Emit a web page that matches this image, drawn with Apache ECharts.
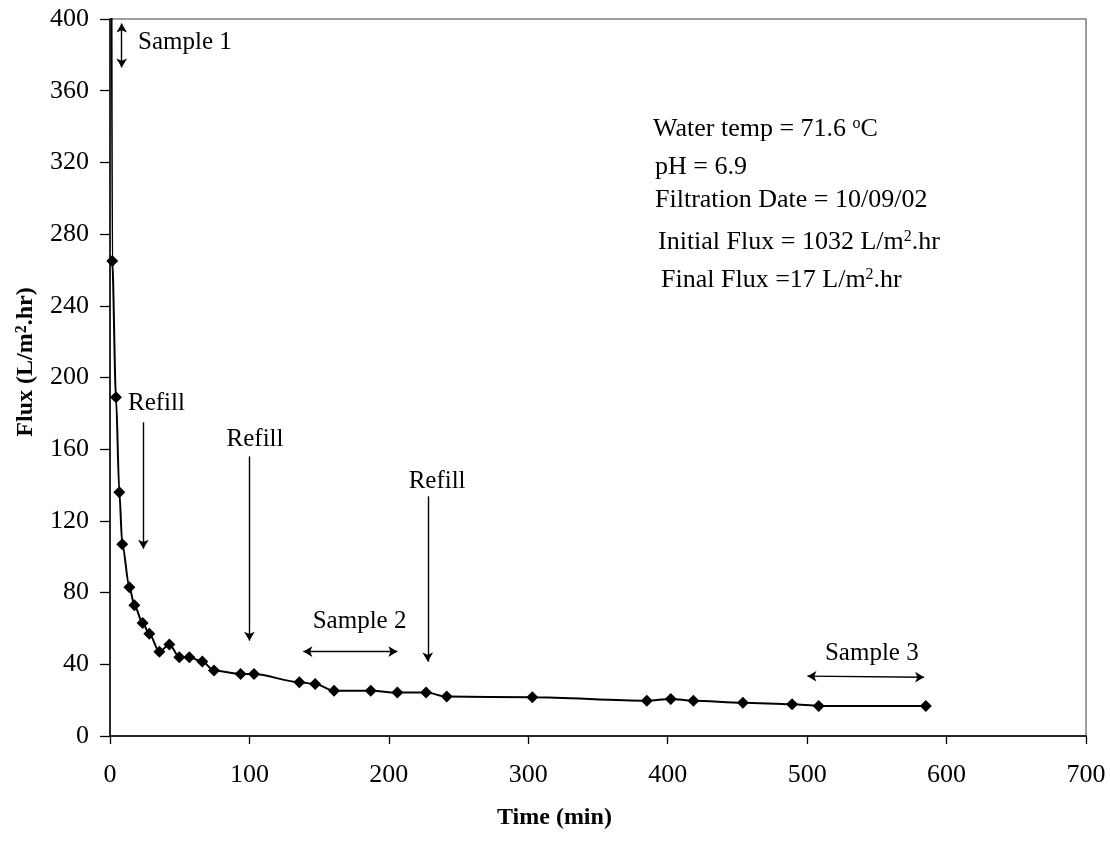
<!DOCTYPE html>
<html>
<head>
<meta charset="utf-8">
<script src="https://cdn.jsdelivr.net/npm/echarts@6/dist/echarts.min.js"></script>
<style>
  html, body { margin: 0; padding: 0; background: #fff; }
  #chart { width: 1110px; height: 846px; }
</style>
</head>
<body>
<div id="chart"></div>
<script>
// Permeate flux over the filtration run
const timeMin = [0, 1.6, 4.3, 6.7, 8.8, 13.9, 17.5, 23.4, 28.2, 35.4, 42.6, 49.7, 56.9, 66.2, 74.6,
  93.7, 103.3, 135.8, 147.1, 160.7, 187, 206.1, 226.7, 241.5, 302.9, 385, 402.2, 418.4, 453.9,
  489.2, 508.3, 585.1];
const fluxLmh = [1032, 265, 189, 136, 107, 83, 73, 63, 57, 47, 51, 44, 44, 41.5, 36.5,
  34.6, 34.6, 30, 29, 25.3, 25.3, 24.2, 24.2, 22, 21.6, 19.7, 20.7, 19.7, 18.6,
  17.7, 16.8, 16.8];

// Axis ranges
const xRange = [0, 700, 100];
const yRange = [0, 400, 40];

// Refill events: time, arrow start flux, arrow end flux
const refillTime = [23.9, 100, 227.9];
const refillFrom = [175, 156, 133.7];
const refillTo = [104.5, 53.2, 41.5];
// Sampling periods (double arrows): [x1, y1, x2, y2]
const sampleArrows = [
  [8.4, 397.5, 8.4, 373],
  [138.7, 47.1, 206.1, 47.1],
  [500.2, 33.4, 583.9, 32.8]
];
// Annotation texts: [label, x, y, align]
const notes = [
  ['Sample 1', 20.1, 387, 'left'],
  ['Refill', 12.9, 185.5, 'left'],
  ['Refill', 104, 165.4, 'center'],
  ['Sample 2', 179, 63.9, 'center'],
  ['Refill', 234.6, 142, 'center'],
  ['Sample 3', 546.4, 46.2, 'center']
];
// Run conditions block
const runInfo = [
  'Water temp = 71.6 {sup|o}C',
  'pH = 6.9',
  'Filtration Date = 10/09/02',
  'Initial Flux = 1032 L/m{sup|2}.hr',
  'Final Flux =17 L/m{sup|2}.hr'
];

const serif = 'Liberation Serif';
const supStyle = { fontFamily: serif, fontSize: 16, verticalAlign: 'top', lineHeight: 14, fill: '#000', color: '#000' };

const arrowLines = [];
refillTime.forEach((t, i) => {
  arrowLines.push([
    { coord: [t, refillFrom[i]], symbol: 'none' },
    { coord: [t, refillTo[i]], symbol: 'arrow' }
  ]);
});
sampleArrows.forEach(a => {
  arrowLines.push([
    { coord: [a[0], a[1]], symbol: 'arrow' },
    { coord: [a[2], a[3]], symbol: 'arrow' }
  ]);
});

const notePoints = notes.map(n => ({
  coord: [n[1], n[2]],
  label: { formatter: n[0], align: n[3] }
}));

const chart = echarts.init(document.getElementById('chart'), null, { renderer: 'canvas' });

const infoX = [653, 655, 655, 658, 661];
const infoY = [127, 165, 198, 240, 278];
const infoGraphics = runInfo.map((txt, i) => ({
  type: 'text',
  left: infoX[i],
  top: infoY[i] - 11,
  style: {
    text: txt,
    fontFamily: serif,
    fontSize: 26,
    fill: '#000',
    rich: { sup: supStyle }
  }
}));

chart.setOption({
  animation: false,
  backgroundColor: '#fff',
  grid: {
    left: 110, right: 24, top: 19, bottom: 110,
    show: true, borderColor: '#808080', borderWidth: 1.5
  },
  xAxis: {
    type: 'value',
    min: xRange[0], max: xRange[1], interval: xRange[2],
    axisLine: { show: true, onZero: false, lineStyle: { color: '#000', width: 1.5 } },
    axisTick: { show: true, inside: false, length: 8, lineStyle: { color: '#000', width: 1.3 } },
    axisLabel: { color: '#000', fontFamily: serif, fontSize: 26, margin: 26 },
    splitLine: { show: false }
  },
  yAxis: {
    type: 'value',
    min: yRange[0], max: yRange[1], interval: yRange[2],
    axisLine: { show: true, onZero: false, lineStyle: { color: '#000', width: 1.5 } },
    axisTick: { show: true, inside: false, length: 10, lineStyle: { color: '#000', width: 1.3 } },
    axisLabel: { color: '#000', fontFamily: serif, fontSize: 26, margin: 21 },
    splitLine: { show: false }
  },
  graphic: [
    {
      type: 'text',
      left: 497,
      top: 806,
      style: { text: 'Time (min)', fontFamily: serif, fontWeight: 'bold', fontSize: 24, fill: '#000' }
    },
    {
      type: 'text',
      x: 26,
      y: 362,
      rotation: Math.PI / 2,
      style: {
        text: 'Flux (L/m{sup|2}.hr)',
        fontFamily: serif, fontWeight: 'bold', fontSize: 24, fill: '#000',
        align: 'center', verticalAlign: 'middle',
        rich: { sup: Object.assign({}, supStyle, { fontWeight: 'bold' }) }
      }
    }
  ].concat(infoGraphics),
  series: [{
    type: 'line',
    data: timeMin.map((t, i) => [t, fluxLmh[i]]),
    smooth: 0.3,
    smoothMonotone: 'x',
    clip: true,
    symbol: 'diamond',
    symbolSize: 12,
    itemStyle: { color: '#000' },
    lineStyle: { color: '#000', width: 2 },
    markLine: {
      silent: true,
      animation: false,
      symbolSize: [8, 9],
      label: { show: false },
      lineStyle: { color: '#000', width: 1.4, type: 'solid' },
      emphasis: { disabled: true },
      data: arrowLines
    },
    markPoint: {
      silent: true,
      animation: false,
      symbol: 'circle',
      symbolSize: 0,
      itemStyle: { color: 'transparent' },
      label: {
        show: true,
        position: [0, 0],
        verticalAlign: 'middle',
        color: '#000',
        fontFamily: serif,
        fontSize: 25
      },
      data: notePoints
    }
  }]
});
</script>
</body>
</html>
